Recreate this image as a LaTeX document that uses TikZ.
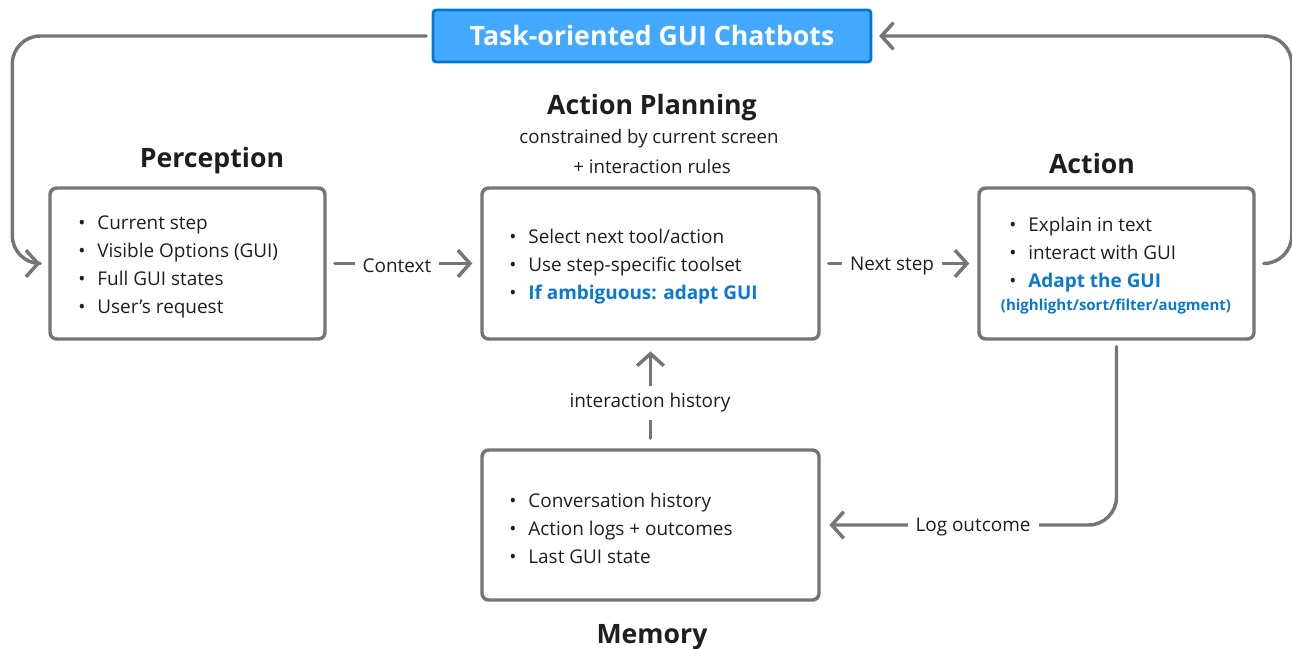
\documentclass[tikz,border=0pt]{standalone}
\usepackage{fontspec}
\setmainfont{Open Sans}
\usetikzlibrary{arrows.meta}
\definecolor{ln}{HTML}{757575}
\definecolor{tx}{HTML}{1E1E1E}
\definecolor{bl}{HTML}{0A78D0}
\definecolor{tfill}{HTML}{42A9FF}
\definecolor{tdraw}{HTML}{0078D4}
\newcommand{\bul}{\textbullet\hspace{9pt}}
\begin{document}
\begin{tikzpicture}[x=0.75pt,y=-0.75pt,
  box/.style={draw=ln, line width=2.6pt, rounded corners=5pt, fill=white},
  body/.style={anchor=west, align=left, text=tx, inner sep=0pt, font=\fontsize{14.2pt}{21pt}\selectfont},
  head/.style={text=tx, inner sep=0pt, font=\fontsize{20pt}{23pt}\selectfont\bfseries},
  sub/.style={text=tx, inner sep=0pt, font=\fontsize{14pt}{16pt}\selectfont},
  lbl/.style={text=tx, fill=white, inner xsep=6pt, inner ysep=2pt, font=\fontsize{14.2pt}{16pt}\selectfont},
  conn/.style={draw=ln, line width=2.6pt, line cap=round, line join=round},
  arr/.style={conn, -{Straight Barb[length=9pt,width=20pt]}}
]
\useasboundingbox (0,0) rectangle (1292,649);
\fill[white] (0,0) rectangle (1292,649);

% title
\node[draw=tdraw, fill=tfill, line width=2.2pt, rounded corners=2.5pt, minimum width=328.5pt, minimum height=39pt, text=white, font=\fontsize{20pt}{24pt}\selectfont\bfseries] (ttl) at (652,36) {Task-oriented GUI Chatbots};

% boxes
\node[box, minimum width=206.25pt, minimum height=113.25pt] (perc) at (187.5,263.5) {};
\node[box, minimum width=252.75pt, minimum height=113.25pt] (plan) at (650.5,263.5) {};
\node[box, minimum width=206.25pt, minimum height=113.25pt] (act) at (1116.5,263.5) {};
\node[box, minimum width=252.75pt, minimum height=112.5pt] (mem) at (650.5,525) {};

% headings
\node[head] (hperc) at (212,161) {Perception};
\node[head] (hplan) at (652,108) {Action Planning};
\node[sub] (s1) at (649,139) {constrained by current screen};
\node[sub] (s2) at (652,167) {+ interaction rules};
\node[head] (hact) at (1092,164) {Action};
\node[head] (hmem) at (652,637) {Memory};

% body texts
\node[body] (tperc) at (78,267) {\bul Current step\\\bul Visible Options (GUI)\\\bul Full GUI states\\\bul User’s request};
\node[body] (tplan) at (509,267) {\bul Select next tool/action\\\bul Use step-specific toolset\\\bul {\color{bl}\bfseries If ambiguous: adapt GUI}};
\node[body] (tact) at (1009,255) {\bul Explain in text\\\bul interact with GUI\\\bul {\color{bl}\bfseries Adapt the GUI}};
\node[text=bl, inner sep=0pt, font=\fontsize{11.25pt}{13pt}\selectfont\bfseries] (tact2) at (1116,307) {(highlight/sort/filter/augment)};
\node[body] (tmem) at (509,528) {\bul Conversation history\\\bul Action logs + outcomes\\\bul Last GUI state};

% connectors
\draw[arr, shorten <=6pt, shorten >=6pt] (perc.east) -- (plan.west);
\draw[arr, shorten <=6pt, shorten >=6pt] (plan.east) -- (act.west);
\draw[arr] ([yshift=7.5pt]mem.north) -- ([yshift=-8pt]plan.south);
\draw[arr, rounded corners=21pt] ([yshift=-4.5pt]act.south) |- ([xshift=6.5pt]mem.east);
\draw[conn, rounded corners=21pt] ([xshift=-4pt]ttl.west) -| ([xshift=-27pt]perc.west) -- ([xshift=-6pt]perc.west);
\draw[arr] ([xshift=-7pt]perc.west) -- ([xshift=-6pt]perc.west);
\draw[arr, rounded corners=21pt] ([xshift=6pt]act.east) -- ([xshift=27pt]act.east) |- ([xshift=5pt]ttl.east);

% connector labels
\node[lbl] (lc) at (397,266) {Context};
\node[lbl] (ln) at (892,266) {Next step};
\node[lbl, inner xsep=2pt, inner ysep=6pt] (li) at (650,403) {interaction history};
\node[lbl] (ll) at (973,527) {Log outcome};
\end{tikzpicture}
\end{document}
